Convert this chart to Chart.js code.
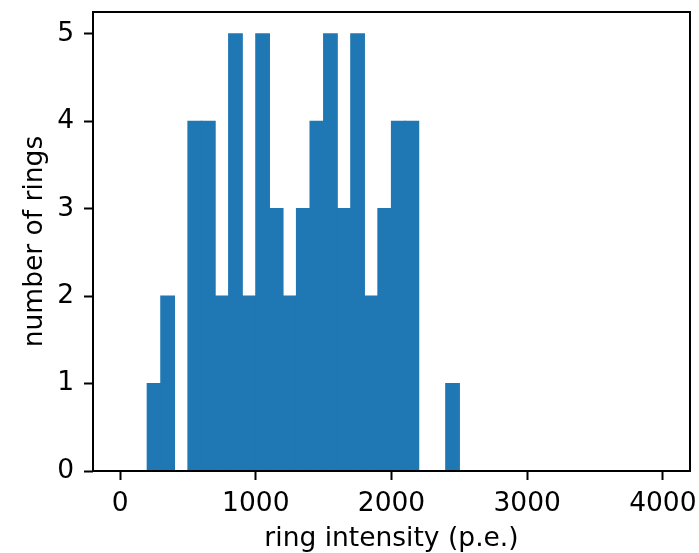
<!DOCTYPE html>
<html>
<head>
<meta charset="utf-8">
<script src="https://cdn.jsdelivr.net/npm/chart.js@4/dist/chart.umd.min.js"></script>
<style>
  html, body { margin: 0; padding: 0; background: #fff; }
  #wrap { width: 699px; height: 553px; position: relative; }
</style>
</head>
<body>
<div id="wrap"><canvas id="c" width="699" height="553"></canvas></div>
<script>
// Histogram bins: left edges (p.e.), width 100
const binEdges = [0,100,200,300,400,500,600,700,800,900,1000,1100,1200,1300,1400,1500,1600,1700,1800,1900,
                  2000,2100,2200,2300,2400,2500,2600,2700,2800,2900,3000,3100,3200,3300,3400,3500,3600,3700,3800,3900];
const counts   = [0,0,1,2,0,4,4,2,5,2,5,3,2,3,4,5,3,5,2,3,
                  4,4,0,0,1,0,0,0,0,0,0,0,0,0,0,0,0,0,0,0];
const binWidth = 100;
const xTicks = [0,1000,2000,3000,4000];
const yTicks = [0,1,2,3,4,5];
const xLabel = 'ring intensity (p.e.)';
const yLabel = 'number of rings';

const FONT = 'DejaVu Sans';
const FS = 26.5;

const frame = {
  id: 'frame',
  afterDatasetsDraw(chart) {
    const a = chart.chartArea, ctx = chart.ctx;
    ctx.save();
    ctx.strokeStyle = '#000';
    ctx.lineWidth = 2;
    ctx.strokeRect(a.left, a.top, a.right - a.left, a.bottom - a.top);
    ctx.restore();
  }
};

new Chart(document.getElementById('c'), {
  type: 'bar',
  data: {
    datasets: [{
      data: binEdges.map((e, i) => ({ x: e + binWidth / 2, y: counts[i] })),
      backgroundColor: '#1f77b4',
      borderWidth: 0,
      inflateAmount: 0.6,
      barPercentage: 1,
      categoryPercentage: 1
    }]
  },
  plugins: [frame],
  options: {
    responsive: false,
    animation: false,
    layout: { padding: { top: 12, right: 9, left: 0, bottom: 0 } },
    plugins: { legend: { display: false }, tooltip: { enabled: false } },
    scales: {
      x: {
        type: 'linear',
        min: -200, max: 4200,
        offset: false,
        afterBuildTicks: s => { s.ticks = xTicks.map(v => ({ value: v })); },
        afterFit: s => { s.height = 82; s.paddingLeft = 0; s.paddingRight = 0; },
        grid: { display: true, offset: false, drawOnChartArea: false, drawTicks: true, tickLength: 9, tickColor: '#000', tickWidth: 2 },
        border: { display: false },
        ticks: { color: '#000', font: { family: FONT, size: FS }, padding: 8, maxRotation: 0, autoSkip: false,
                 callback: v => String(v) },
        title: { display: true, text: xLabel, color: '#000', font: { family: FONT, size: FS }, padding: { top: 0, bottom: -2 } }
      },
      y: {
        type: 'linear',
        min: 0, max: 5.25,
        afterBuildTicks: s => { s.ticks = yTicks.map(v => ({ value: v })); },
        afterFit: s => { s.width = 93; s.paddingTop = 0; s.paddingBottom = 0; },
        grid: { display: true, offset: false, drawOnChartArea: false, drawTicks: true, tickLength: 9, tickColor: '#000', tickWidth: 2 },
        border: { display: false },
        ticks: { color: '#000', font: { family: FONT, size: FS }, padding: 10, autoSkip: false,
                 callback: v => String(v) },
        title: { display: true, text: yLabel, color: '#000', font: { family: FONT, size: FS }, padding: { top: 19, bottom: 0 } }
      }
    }
  }
});
</script>
</body>
</html>
